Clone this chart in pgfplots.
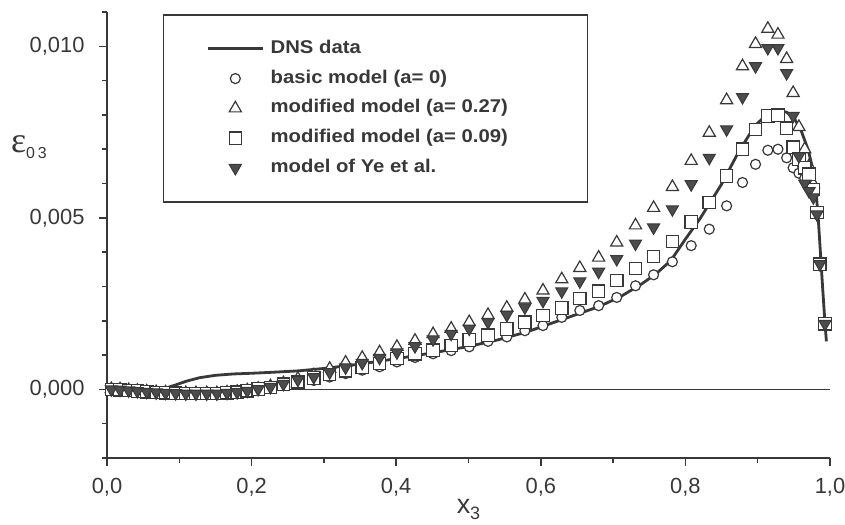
\documentclass[border=0pt]{standalone}
\usepackage{fontspec}
\setmainfont{Liberation Sans}
\newfontfamily\legfont{Liberation Sans}[FakeStretch=1.1]
\newfontfamily\grk{Liberation Serif}
\usepackage{pgfplots}
\pgfplotsset{compat=1.18}
\usepackage{pgfplotstable}
\definecolor{dk}{gray}{0.22}
\definecolor{fl}{gray}{0.3}
\pgfplotsset{myleg/.style={legend image code/.code={\draw[mark repeat=2,mark phase=2,##1] plot coordinates {(0bp,0bp) (27.5bp,0bp) (55bp,0bp)};}}}

\pgfplotstableread{
x circ tri sq ye
0.006  0.00000  0.00001  0.00000  0.00000
0.018 -0.00001  0.00000 -0.00001 -0.00001
0.030 -0.00003 -0.00002 -0.00003 -0.00003
0.042 -0.00005 -0.00004 -0.00005 -0.00005
0.055 -0.00007 -0.00006 -0.00007 -0.00007
0.068 -0.00009 -0.00008 -0.00009 -0.00009
0.081 -0.00010 -0.00009 -0.00010 -0.00010
0.095 -0.00011 -0.00010 -0.00011 -0.00011
0.109 -0.00012 -0.00011 -0.00012 -0.00012
0.123 -0.00012 -0.00011 -0.00012 -0.00012
0.138 -0.00012 -0.00011 -0.00012 -0.00012
0.152 -0.00012 -0.00011 -0.00012 -0.00012
0.166 -0.00010 -0.00009 -0.00010 -0.00010
0.180 -0.00008 -0.00007 -0.00008 -0.00008
0.194 -0.00005 -0.00003 -0.00004 -0.00004
0.209  0.00000  0.00002  0.00001  0.00001
0.226  0.00005  0.00009  0.00006  0.00007
0.244  0.00013  0.00018  0.00015  0.00016
0.264  0.00018  0.00031  0.00022  0.00028
0.286  0.00026  0.00041  0.00033  0.00036
0.308  0.00036  0.00060  0.00043  0.00050
0.330  0.00046  0.00078  0.00054  0.00064
0.353  0.00056  0.00092  0.00064  0.00077
0.377  0.00066  0.00108  0.00076  0.00092
0.401  0.00080  0.00124  0.00090  0.00108
0.426  0.00093  0.00142  0.00104  0.00126
0.451  0.00104  0.00161  0.00114  0.00146
0.476  0.00113  0.00177  0.00128  0.00162
0.501  0.00124  0.00196  0.00144  0.00177
0.527  0.00140  0.00217  0.00158  0.00196
0.553  0.00153  0.00238  0.00176  0.00217
0.578  0.00171  0.00262  0.00196  0.00239
0.603  0.00186  0.00288  0.00215  0.00258
0.629  0.00210  0.00321  0.00237  0.00286
0.654  0.00230  0.00354  0.00265  0.00315
0.680  0.00244  0.00384  0.00286  0.00343
0.705  0.00268  0.00428  0.00317  0.00380
0.731  0.00302  0.00478  0.00352  0.00425
0.756  0.00334  0.00529  0.00387  0.00472
0.782  0.00372  0.00590  0.00431  0.00525
0.808  0.00419  0.00666  0.00488  0.00598
0.833  0.00467  0.00748  0.00545  0.00675
0.857  0.00535  0.00843  0.00622  0.00758
0.879  0.00603  0.00942  0.00700  0.00852
0.897  0.00656  0.01007  0.00758  0.00942
0.914  0.00697  0.01051  0.00797  0.00995
0.928  0.00700  0.01034  0.00799  0.00995
0.940  0.00675  0.00963  0.00761  0.00922
0.949  0.00646  0.00864  0.00706  0.00797
0.957  0.00630  0.00765  0.00671  0.00680
0.965  0.00615  0.00700  0.00646  0.00600
0.971  0.00600  0.00651  0.00627  0.00578
0.977  0.00570  0.00598  0.00583  0.00560
0.982  0.00510  0.00515  0.00515  0.00510
0.986  0.00365  0.00365  0.00365  0.00365
0.993  0.00191  0.00191  0.00191  0.00191
}\models

\pgfplotstableread{
x y
0.000 -0.00003
0.040 -0.00004
0.065 -0.00003
0.080 0.00003
0.095 0.00013
0.110 0.00024
0.128 0.00034
0.150 0.00041
0.175 0.00045
0.200 0.00047
0.230 0.00050
0.265 0.00054
0.300 0.00061
0.340 0.00071
0.380 0.00083
0.420 0.00096
0.460 0.00110
0.500 0.00125
0.540 0.00144
0.580 0.00167
0.630 0.00204
0.680 0.00241
0.710 0.00270
0.740 0.00308
0.760 0.00338
0.780 0.00376
0.800 0.00438
0.820 0.00497
0.850 0.00598
0.873 0.00690
0.896 0.00768
0.914 0.00804
0.928 0.00812
0.940 0.00808
0.950 0.00792
0.960 0.00755
0.970 0.00697
0.977 0.00635
0.981 0.00570
0.984 0.00490
0.987 0.00390
0.990 0.00290
0.993 0.00195
0.995 0.00140
}\dns

\begin{document}
\begin{tikzpicture}
\begin{axis}[
  scale only axis, width=723bp, height=446bp,
  xmin=0, xmax=1, ymin=-0.002, ymax=0.011,
  axis x line=bottom, axis y line=left,
  axis line style={-, line width=1.8bp, dk},
  every outer x axis line/.append style={-},
  every outer y axis line/.append style={-},
  clip=false,
  xtick={0,0.2,0.4,0.6,0.8,1},
  minor xtick={0.1,0.3,0.5,0.7,0.9},
  ytick={0,0.005,0.01},
  minor ytick={-0.002,-0.001,0.001,0.002,0.003,0.004,0.006,0.007,0.008,0.009,0.011},
  tick align=outside,
  major tick length=8bp, minor tick length=5bp,
  tick style={line width=1.5bp, dk},
  scaled ticks=false,
  /pgf/number format/assume math mode=true,
  xticklabel style={font=\fontsize{22}{24}\selectfont, text=dk, yshift=-9bp, /pgf/number format/.cd, fixed, fixed zerofill, precision=1, use comma},
  yticklabel style={font=\fontsize{22}{24}\selectfont, text=dk, xshift=-11bp, /pgf/number format/.cd, fixed, fixed zerofill, precision=3, use comma},
  myleg,
  legend cell align=left,
  legend style={at={(rel axis cs:0.077,0.9955)}, anchor=north west, draw=dk, line width=1.5bp, inner xsep=43bp, inner ysep=25bp,
    font=\legfont\bfseries\fontsize{18.5}{20}\selectfont, text=dk, row sep=11.8bp,
    nodes={inner sep=0.5bp, text height=13bp, text depth=4bp},
    /tikz/every odd column/.append style={column sep=6bp}},
]
\addplot[dk, line width=1.6bp, forget plot] coordinates {(0,0) (1,0)};
\addplot[dk, line width=2.8bp] table[x=x,y=y]{\dns};
\addlegendentry{DNS data}
\addplot[only marks, mark=*, mark size=5bp, mark options={draw=dk, fill=white, line width=1.2bp}] table[x=x,y=circ]{\models};
\addlegendentry{basic model (a= 0)}
\addplot[only marks, mark=triangle*, mark size=7bp, mark options={draw=dk, fill=white, line width=1.2bp}] table[x=x,y=tri]{\models};
\addlegendentry{modified model (a= 0.27)\hspace*{36bp}}
\addplot[only marks, mark=square*, mark size=6.2bp, mark options={draw=dk, fill=white, line width=1.2bp}] table[x=x,y=sq]{\models};
\addlegendentry{modified model (a= 0.09)}
\addplot[only marks, mark=triangle*, mark size=7bp, mark options={rotate=180, draw=dk, fill=fl, line width=1bp}] table[x=x,y=ye]{\models};
\addlegendentry{model of Ye et al.}
\node[anchor=base, text=dk] at (rel axis cs:0.5,-0.125) {\fontsize{27}{27}\selectfont x\raisebox{-5.5bp}{\fontsize{18}{18}\selectfont 3}};
\node[text=dk] at (rel axis cs:-0.108,0.697) {\grk\fontsize{36}{36}\selectfont ε\raisebox{-6bp}{\rmfamily\fontsize{16}{16}\selectfont 0\,3}};
\coordinate (bl) at (rel axis cs:0,0);
\coordinate (tr) at (rel axis cs:1,1);
\end{axis}
\pgfresetboundingbox
\path[use as bounding box] ([xshift=-107bp,yshift=-67bp]bl) rectangle ([xshift=15bp,yshift=12bp]tr);
\end{tikzpicture}
\end{document}
